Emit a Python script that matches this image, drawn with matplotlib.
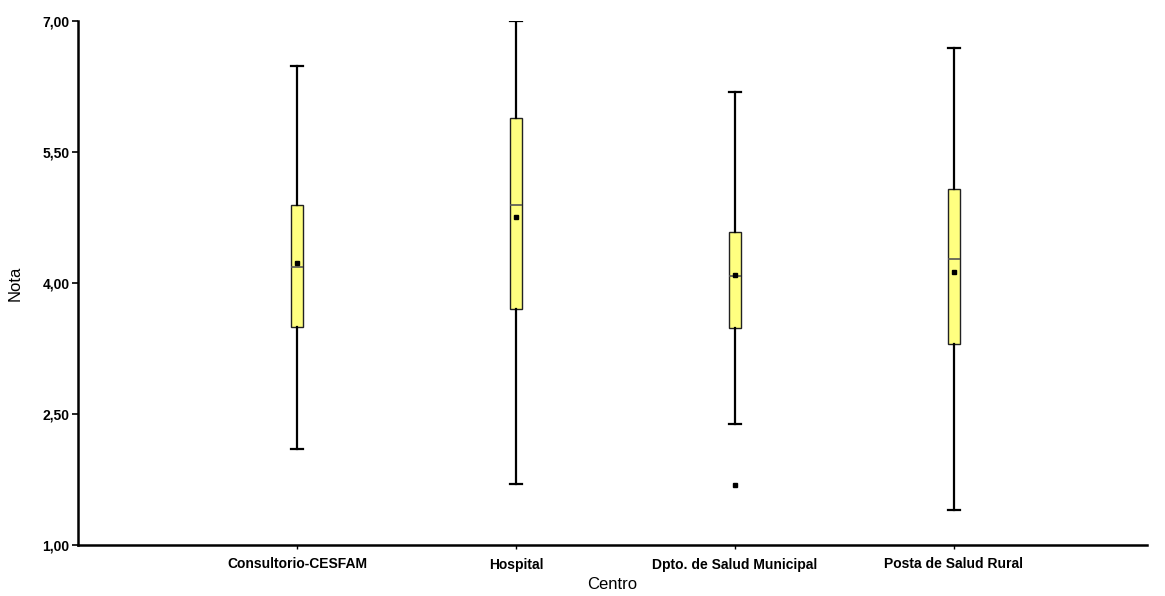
import matplotlib
matplotlib.use("Agg")
import matplotlib.pyplot as plt

plt.rcParams['font.family'] = ['Liberation Sans', 'DejaVu Sans']

categories = ["Consultorio-CESFAM", "Hospital", "Dpto. de Salud Municipal", "Posta de Salud Rural"]
whislo = [2.10, 1.70, 2.38, 1.40]
q1 = [3.50, 3.70, 3.49, 3.30]
med = [4.18, 4.89, 4.08, 4.28]
q3 = [4.89, 5.89, 4.58, 5.08]
whishi = [6.49, 7.00, 6.19, 6.69]
means = [4.23, 4.76, 4.09, 4.13]
outliers = [[], [], [1.69], []]

yticks = [1.00, 2.50, 4.00, 5.50, 7.00]
ytick_labels = ["1,00", "2,50", "4,00", "5,50", "7,00"]

stats = []
for i, c in enumerate(categories):
    stats.append(dict(label=c, whislo=whislo[i], q1=q1[i], med=med[i], q3=q3[i],
                      whishi=whishi[i], mean=means[i], fliers=outliers[i]))

fig = plt.figure(figsize=(11.65, 5.96), dpi=100)
ax = fig.add_axes([78/1165, 51/596, (1147-78)/1165, (545-21)/596])

positions = [1, 2, 3, 4]
ax.bxp(stats, positions=positions, widths=0.055, patch_artist=True, showmeans=True,
       boxprops=dict(facecolor='#FFFF80', edgecolor='#222222', linewidth=1.0),
       medianprops=dict(color='#555555', linewidth=1.2),
       whiskerprops=dict(color='black', linewidth=1.6),
       capprops=dict(color='black', linewidth=1.6),
       meanprops=dict(marker='s', markerfacecolor='black', markeredgecolor='black', markersize=3),
       flierprops=dict(marker='s', markerfacecolor='black', markeredgecolor='black', markersize=3),
       capwidths=0.055)

ax.set_xlim(0, 1069/219)
ax.set_ylim(1.0, 7.0)
ax.set_yticks(yticks)
ax.set_yticklabels(ytick_labels, fontsize=10, fontweight='bold')
ax.set_xticks(positions)
ax.set_xticklabels(categories, fontsize=10, fontweight='bold')
ax.tick_params(axis='y', direction='out', length=4, width=1.2, pad=2)
ax.tick_params(axis='x', direction='out', length=3, width=1.0, pad=6)

for s in ['top', 'right']:
    ax.spines[s].set_visible(False)
for s in ['left', 'bottom']:
    ax.spines[s].set_linewidth(1.8)

ax.set_xlabel("Centro", fontsize=12, labelpad=4)
ax.set_ylabel("Nota", fontsize=12, labelpad=14)

fig.savefig("out.png", dpi=100)
